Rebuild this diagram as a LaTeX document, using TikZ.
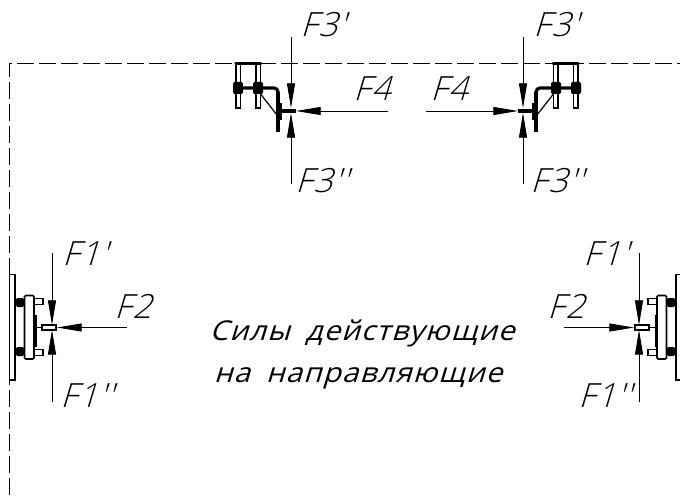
\documentclass[tikz,border=0pt]{standalone}
\usepackage{fontspec}
\usetikzlibrary{arrows.meta}
\newfontfamily\cadfont[FakeSlant=0.3,LetterSpace=4]{Open Sans Light}
\newfontfamily\capfont[FakeSlant=0.3,FakeStretch=1.08,LetterSpace=4,WordSpace=1.8]{Open Sans}
\newcommand{\topbracket}{%
    \draw[partbox,line width=0.9pt] (236,64) rectangle (240.5,108);
    \draw[partbox,line width=0.9pt] (256,64) rectangle (260.5,108);
    \draw[line width=1.8pt,line cap=round] (235.5,63.5) -- (261,63.5);
    \fill[rounded corners=1pt] (233,82) rectangle (243,94);
    \fill[rounded corners=1pt] (253,82) rectangle (263,94);
    \draw[heavy,rounded corners=3pt] (233,88) -- (278,88) -- (278,132);
    \draw[line width=3pt] (278,92) -- (278,132);
    \fill (278,103) rectangle (282,120);
    \draw[line width=2.4pt] (278,111) -- (296,111);
    \draw[line width=0.9pt] (259,92) -- (277,115);
}
\newcommand{\sidebracket}{%
    \fill[rounded corners=1pt] (16,298) rectangle (24,307);
    \fill[rounded corners=1pt] (16,347) rectangle (24,356);
    \draw[partbox] (34,298.5) rectangle (43,304.5);
    \draw[partbox] (34,349.5) rectangle (43,355.5);
    \draw[partbox] (9.5,274.5) rectangle (15,380);
    \draw[partbox,rounded corners=1pt] (24.5,295.5) rectangle (34,359);
    \fill (34,315) rectangle (36.5,347);
    \draw[line width=0.9pt] (36,327.5) -- (42,327.5);
    \draw[partbox] (42,325) rectangle (56,330);
}
\tikzset{
  x=0.75pt,y=-0.75pt,
  force/.style={line width=0.6pt,-{Triangle[length=18.5pt,width=6pt]}},
  frameline/.style={line width=0.6pt,dash pattern=on 12.5pt off 4pt},
  lab/.style={font=\cadfont\fontsize{25}{28}\selectfont,anchor=base west,inner sep=0pt},
  captext/.style={font=\capfont\fontsize{20.5}{24}\selectfont,anchor=base,inner sep=0pt},
  partbox/.style={draw=black,fill=white,line width=1.2pt},
  heavy/.style={line width=2.4pt}
}
\begin{document}
\begin{tikzpicture}
\useasboundingbox (0,0) rectangle (680,495);
% coordinates for force arrows
\coordinate (a1s) at (291,37);  \coordinate (a1e) at (291,108);
\coordinate (a2s) at (291,184); \coordinate (a2e) at (291,113);
\coordinate (a3s) at (388,111); \coordinate (a3e) at (296,111);
\coordinate (b1s) at (523,37);  \coordinate (b1e) at (523,108);
\coordinate (b2s) at (523,184); \coordinate (b2e) at (523,113);
\coordinate (b3s) at (426,111); \coordinate (b3e) at (518,111);
\coordinate (c1s) at (52,253);  \coordinate (c1e) at (52,325);
\coordinate (c2s) at (52,402);  \coordinate (c2e) at (52,330);
\coordinate (c3s) at (127,327.5); \coordinate (c3e) at (57,327.5);
\coordinate (d1s) at (639,253); \coordinate (d1e) at (639,325);
\coordinate (d2s) at (639,402); \coordinate (d2e) at (639,330);
\coordinate (d3s) at (564,327.5); \coordinate (d3e) at (634,327.5);
% frame
\coordinate (fa) at (9,495); \coordinate (fb) at (9,63); \coordinate (fc) at (680,63);
\draw[frameline] (fa) -- (fb) -- (fc);
% brackets
\topbracket
\begin{scope}[xscale=-1,xshift=-610.5pt]\topbracket\end{scope}
\sidebracket
\begin{scope}[xscale=-1,xshift=-518.25pt]\sidebracket\end{scope}
% forces
\foreach \g in {a,b,c,d}{\foreach \i in {1,2,3}{\draw[force] (\g\i s) -- (\g\i e);}}
% labels
\node[lab] (t1) at (300,37) {F3'};
\node[lab] (t2) at (353,101) {F4};
\node[lab] (t3) at (295,192) {F3''};
\node[lab] (t4) at (533,37) {F3'};
\node[lab] (t5) at (430,101) {F4};
\node[lab] (t6) at (530,192) {F3''};
\node[lab] (t7) at (62,265) {F1'};
\node[lab] (t8) at (114,318) {F2};
\node[lab] (t9) at (60,407) {F1''};
\node[lab] (t10) at (583,265) {F1'};
\node[lab] (t11) at (547,318) {F2};
\node[lab] (t12) at (578,407) {F1''};
\node[captext] (m1) at (362,340) {Силы действующие};
\node[captext] (m2) at (358,382) {на направляющие};
\end{tikzpicture}
\end{document}
